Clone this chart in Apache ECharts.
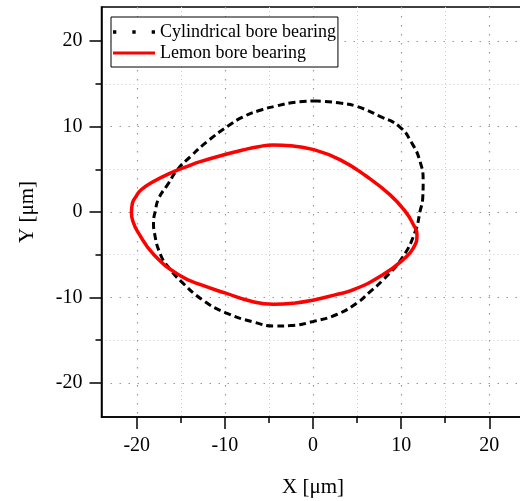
<!DOCTYPE html>
<html>
<head>
<meta charset="utf-8">
<script src="https://cdn.jsdelivr.net/npm/echarts@6/dist/echarts.min.js"></script>
<style>
  html, body { margin: 0; padding: 0; background: #fff; }
  #chart { width: 520px; height: 501px; }
</style>
</head>
<body>
<div id="chart"></div>
<script>
// Orbit points [X, Y] in µm
const cylindricalOrbit = [
  [0.5, 13.0], [-2.0, 12.85], [-4.2, 12.4], [-6.2, 11.85], [-8.0, 11.1], [-9.6, 10.1],
  [-12.0, 8.25], [-13.9, 6.5], [-15.4, 4.95], [-16.5, 3.2], [-17.5, 1.6], [-17.9, 0.1],
  [-18.1, -1.3], [-18.0, -2.4], [-17.3, -5.0], [-16.3, -6.6], [-15.0, -8.1], [-12.4, -10.4],
  [-9.9, -11.8], [-6.7, -12.9], [-4.2, -13.35], [-2.6, -13.3], [0.1, -12.8], [2.7, -12.0],
  [5.0, -10.65], [6.3, -9.5], [8.0, -7.9], [10.1, -5.4], [11.6, -2.3], [12.15, 0.1],
  [12.45, 1.6], [12.5, 3.6], [12.15, 5.9], [11.2, 8.1], [9.8, 10.0], [7.6, 11.2],
  [5.0, 12.35], [3.1, 12.75], [0.5, 13.0]
];
const lemonOrbit = [
  [0.1, 7.3], [-2.5, 7.75], [-4.5, 7.85], [-6.2, 7.65], [-8.0, 7.25], [-10.1, 6.7],
  [-12.8, 5.9], [-13.9, 5.5], [-16.2, 4.55], [-18.05, 3.6], [-19.5, 2.6], [-20.1, 1.8],
  [-20.5, 1.0], [-20.6, -0.1], [-20.4, -1.2], [-19.9, -2.3], [-18.05, -5.0], [-15.0, -7.5],
  [-12.5, -8.6], [-9.9, -9.5], [-7.0, -10.45], [-4.5, -10.8], [-2.0, -10.65], [0.1, -10.3],
  [2.5, -9.7], [4.6, -9.1], [8.0, -7.3], [10.2, -5.6], [11.4, -4.2], [11.8, -2.65],
  [11.4, -1.5], [10.45, 0.1], [8.75, 2.0], [6.1, 4.15], [3.1, 6.1], [0.1, 7.3]
];
const seriesNames = ['Cylindrical bore bearing', 'Lemon bore bearing'];
const majorTicks = [-20, -10, 0, 10, 20];
const minorTicks = [-15, -5, 5, 15];
const axisMin = -24;
const axisMax = 24;

document.addEventListener('DOMContentLoaded', () => {
  const chart = echarts.init(document.getElementById('chart'));
  const font = '"Liberation Serif", "Times New Roman", serif';

  // main axis: line, major ticks, labels, major grid lines
  function majorAxis(name, gap) {
    return {
      type: 'value',
      name: name,
      nameLocation: 'middle',
      nameGap: gap,
      nameTextStyle: { fontFamily: font, fontSize: 21, color: '#000' },
      min: axisMin,
      max: axisMax,
      axisLine: { onZero: false, lineStyle: { color: '#000', width: 1.5 } },
      axisTick: { show: true, length: 12, customValues: majorTicks,
        lineStyle: { color: '#000', width: 1.5 } },
      minorTick: { show: false },
      axisLabel: { fontFamily: font, fontSize: 20, color: '#000', margin: 19,
        customValues: majorTicks },
      splitLine: { show: true, lineStyle: { color: '#999', width: 1.2, type: [1.5, 7.5] } },
      minorSplitLine: { show: false }
    };
  }

  // second axis on the same side: short minor ticks and light grid lines
  function minorAxis(position) {
    return {
      type: 'value',
      position: position,
      min: axisMin,
      max: axisMax,
      axisLine: { show: false, onZero: false },
      axisTick: { show: true, length: 6, customValues: minorTicks,
        lineStyle: { color: '#000', width: 1.5 } },
      axisLabel: { show: false },
      splitLine: { show: true, lineStyle: { color: '#ccc', width: 1, type: [1, 3] } }
    };
  }

  const option = {
    animation: false,
    grid: {
      left: 101.5, top: 7, width: 423, height: 410,
      outerBoundsMode: 'none',
      show: true, borderColor: '#000', borderWidth: 1.5, backgroundColor: 'transparent'
    },
    legend: {
      orient: 'vertical',
      left: 111, top: 17,
      padding: [6, 2, 5, 2],
      itemGap: 3,
      itemWidth: 42,
      itemHeight: 14,
      backgroundColor: '#fff',
      borderColor: '#000',
      borderWidth: 1,
      borderRadius: 0,
      textStyle: { fontFamily: font, fontSize: 18, color: '#000' },
      data: [
        { name: seriesNames[0],
          icon: 'path://M0,6h3v3h-3z M17.5,6h3v3h-3z M35,6h3v3h-3z',
          itemStyle: { color: '#000' } },
        { name: seriesNames[1],
          icon: 'path://M0,6h42v3h-42z',
          itemStyle: { color: '#ff0000' } }
      ]
    },
    xAxis: [majorAxis('X [μm]', 60), minorAxis('bottom')],
    yAxis: [majorAxis('Y [μm]', 64), minorAxis('left')],
    series: [
      {
        name: seriesNames[0],
        type: 'line',
        data: cylindricalOrbit,
        smooth: 0.5,
        showSymbol: false,
        lineStyle: { color: '#000', width: 3, type: [7, 4] },
        itemStyle: { color: '#000' },
        z: 2
      },
      {
        name: seriesNames[1],
        type: 'line',
        data: lemonOrbit,
        smooth: 0.5,
        showSymbol: false,
        lineStyle: { color: '#ff0000', width: 3.5 },
        itemStyle: { color: '#ff0000' },
        z: 3
      }
    ]
  };

  chart.setOption(option);
  window.addEventListener('resize', () => chart.resize());
});
</script>
</body>
</html>
